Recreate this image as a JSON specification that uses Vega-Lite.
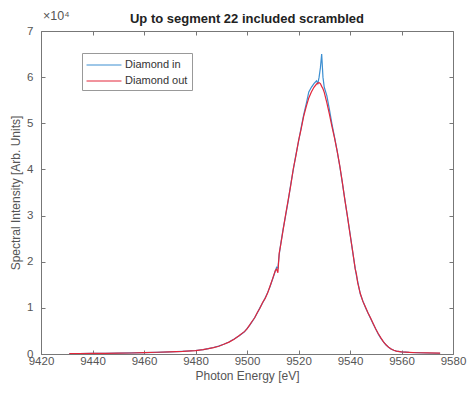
{
  "$schema": "https://vega.github.io/schema/vega-lite/v6.json",
  "width": 412,
  "height": 323,
  "autosize": {"type": "none"},
  "padding": {"left": 41, "top": 31, "right": 15, "bottom": 41},
  "background": "white",
  "title": {"text": "Up to segment 22 included scrambled", "fontSize": 13, "fontWeight": "bold", "font": "Liberation Sans", "color": "#222", "offset": -16, "anchor": "middle"},
  "config": {
    "view": {"stroke": null},
    "font": "Liberation Sans",
    "axis": {"domainColor": "#777", "tickColor": "#777", "labelColor": "#555", "titleColor": "#555", "labelFontSize": 11.5, "titleFontSize": 12, "titleFontWeight": "normal", "tickSize": -4, "grid": false, "labelPadding": 5, "labelFlush": false}
  },
  "layer": [
    {
      "data": {"values": [
        {"e": 9431, "Diamond in": 90, "Diamond out": 100},
        {"e": 9435, "Diamond in": 110, "Diamond out": 105},
        {"e": 9440, "Diamond in": 120, "Diamond out": 125},
        {"e": 9445, "Diamond in": 140, "Diamond out": 150},
        {"e": 9450, "Diamond in": 180, "Diamond out": 175},
        {"e": 9455, "Diamond in": 230, "Diamond out": 220},
        {"e": 9460, "Diamond in": 290, "Diamond out": 300},
        {"e": 9465, "Diamond in": 370, "Diamond out": 380},
        {"e": 9470, "Diamond in": 460, "Diamond out": 450},
        {"e": 9475, "Diamond in": 580, "Diamond out": 560},
        {"e": 9480, "Diamond in": 760, "Diamond out": 750},
        {"e": 9483, "Diamond in": 950, "Diamond out": 960},
        {"e": 9485, "Diamond in": 1150, "Diamond out": 1150},
        {"e": 9487, "Diamond in": 1400, "Diamond out": 1380},
        {"e": 9489, "Diamond in": 1700, "Diamond out": 1680},
        {"e": 9491, "Diamond in": 2100, "Diamond out": 2120},
        {"e": 9493, "Diamond in": 2600, "Diamond out": 2580},
        {"e": 9495, "Diamond in": 3250, "Diamond out": 3200},
        {"e": 9497, "Diamond in": 3950, "Diamond out": 4000},
        {"e": 9499, "Diamond in": 4800, "Diamond out": 4850},
        {"e": 9500, "Diamond in": 5500, "Diamond out": 5450},
        {"e": 9501, "Diamond in": 6200, "Diamond out": 6250},
        {"e": 9502, "Diamond in": 7000, "Diamond out": 7100},
        {"e": 9503, "Diamond in": 7900, "Diamond out": 7850},
        {"e": 9504, "Diamond in": 8900, "Diamond out": 9000},
        {"e": 9505, "Diamond in": 10000, "Diamond out": 9900},
        {"e": 9506, "Diamond in": 11000, "Diamond out": 11100},
        {"e": 9507, "Diamond in": 12100, "Diamond out": 12000},
        {"e": 9508, "Diamond in": 13300, "Diamond out": 13200},
        {"e": 9509, "Diamond in": 14700, "Diamond out": 14800},
        {"e": 9510, "Diamond in": 16300, "Diamond out": 16400},
        {"e": 9511, "Diamond in": 18000, "Diamond out": 18100},
        {"e": 9511.5, "Diamond in": 18800, "Diamond out": 18400},
        {"e": 9512, "Diamond in": 18600, "Diamond out": 17600},
        {"e": 9512.5, "Diamond in": 21500, "Diamond out": 21800},
        {"e": 9513, "Diamond in": 23500, "Diamond out": 23400},
        {"e": 9514, "Diamond in": 27000, "Diamond out": 26800},
        {"e": 9515, "Diamond in": 30000, "Diamond out": 30200},
        {"e": 9516, "Diamond in": 33200, "Diamond out": 33400},
        {"e": 9517, "Diamond in": 36800, "Diamond out": 36600},
        {"e": 9518, "Diamond in": 40000, "Diamond out": 40200},
        {"e": 9519, "Diamond in": 43200, "Diamond out": 43000},
        {"e": 9520, "Diamond in": 46000, "Diamond out": 46200},
        {"e": 9521, "Diamond in": 49000, "Diamond out": 48700},
        {"e": 9522, "Diamond in": 51800, "Diamond out": 51500},
        {"e": 9523, "Diamond in": 54200, "Diamond out": 53600},
        {"e": 9524, "Diamond in": 56800, "Diamond out": 55500},
        {"e": 9525, "Diamond in": 57800, "Diamond out": 56800},
        {"e": 9526, "Diamond in": 58600, "Diamond out": 57800},
        {"e": 9527, "Diamond in": 59200, "Diamond out": 58500},
        {"e": 9527.5, "Diamond in": 58600, "Diamond out": 58700},
        {"e": 9528, "Diamond in": 60000, "Diamond out": 58800},
        {"e": 9528.5, "Diamond in": 62000, "Diamond out": 58600},
        {"e": 9529, "Diamond in": 65000, "Diamond out": 58000},
        {"e": 9529.5, "Diamond in": 60000, "Diamond out": 57500},
        {"e": 9530, "Diamond in": 57800, "Diamond out": 56700},
        {"e": 9531, "Diamond in": 56000, "Diamond out": 54500},
        {"e": 9532, "Diamond in": 53000, "Diamond out": 52000},
        {"e": 9533, "Diamond in": 49800, "Diamond out": 49300},
        {"e": 9534, "Diamond in": 47000, "Diamond out": 46800},
        {"e": 9535, "Diamond in": 44000, "Diamond out": 44000},
        {"e": 9536, "Diamond in": 40800, "Diamond out": 40900},
        {"e": 9537, "Diamond in": 37200, "Diamond out": 37300},
        {"e": 9538, "Diamond in": 33500, "Diamond out": 33400},
        {"e": 9539, "Diamond in": 29800, "Diamond out": 29900},
        {"e": 9540, "Diamond in": 26200, "Diamond out": 26000},
        {"e": 9541, "Diamond in": 22300, "Diamond out": 22400},
        {"e": 9542, "Diamond in": 18600, "Diamond out": 18500},
        {"e": 9542.5, "Diamond in": 17000, "Diamond out": 17300},
        {"e": 9543, "Diamond in": 15700, "Diamond out": 15400},
        {"e": 9544, "Diamond in": 13000, "Diamond out": 13100},
        {"e": 9545, "Diamond in": 11500, "Diamond out": 11400},
        {"e": 9546, "Diamond in": 10100, "Diamond out": 10200},
        {"e": 9547, "Diamond in": 8900, "Diamond out": 8900},
        {"e": 9548, "Diamond in": 7700, "Diamond out": 7800},
        {"e": 9549, "Diamond in": 6500, "Diamond out": 6600},
        {"e": 9550, "Diamond in": 5400, "Diamond out": 5400},
        {"e": 9551, "Diamond in": 4300, "Diamond out": 4400},
        {"e": 9552, "Diamond in": 3400, "Diamond out": 3500},
        {"e": 9553, "Diamond in": 2600, "Diamond out": 2650},
        {"e": 9554, "Diamond in": 1950, "Diamond out": 2000},
        {"e": 9555, "Diamond in": 1450, "Diamond out": 1450},
        {"e": 9556, "Diamond in": 1050, "Diamond out": 1100},
        {"e": 9557, "Diamond in": 800, "Diamond out": 820},
        {"e": 9558, "Diamond in": 620, "Diamond out": 640},
        {"e": 9560, "Diamond in": 450, "Diamond out": 460},
        {"e": 9563, "Diamond in": 340, "Diamond out": 350},
        {"e": 9566, "Diamond in": 280, "Diamond out": 270},
        {"e": 9570, "Diamond in": 220, "Diamond out": 230},
        {"e": 9575, "Diamond in": 160, "Diamond out": 170}
      ]},
      "transform": [{"fold": ["Diamond in", "Diamond out"], "as": ["series", "value"]}],
      "mark": {"type": "line", "strokeWidth": 1.2, "clip": true},
      "encoding": {
        "x": {"field": "e", "type": "quantitative", "scale": {"domain": [9420, 9580], "nice": false, "zero": false},
              "axis": {"orient": "bottom", "values": [9420, 9440, 9460, 9480, 9500, 9520, 9540, 9560, 9580], "format": "d", "title": "Photon Energy [eV]", "titlePadding": 4}},
        "y": {"field": "value", "type": "quantitative", "scale": {"domain": [0, 70000], "nice": false},
              "axis": {"orient": "left", "values": [0, 10000, 20000, 30000, 40000, 50000, 60000, 70000], "labelExpr": "datum.value / 10000", "labelPadding": 12, "title": "Spectral Intensity [Arb. Units]", "titlePadding": 4}},
        "color": {"field": "series", "type": "nominal",
                  "scale": {"domain": ["Diamond in", "Diamond out"], "range": ["#3d8fd1", "#e3263a"]},
                  "legend": {"title": null, "orient": "none", "legendX": 41, "legendY": 22, "symbolType": "M-2.33,0H2.33", "symbolSize": 225, "symbolStrokeWidth": 1, "symbolOffset": 10, "labelFontSize": 11, "labelColor": "#333", "strokeColor": "#999", "fillColor": "white", "padding": 4, "rowPadding": 3, "labelOffset": 13}}
      }
    },
    {
      "data": {"values": [{"t": "×10⁴"}]},
      "mark": {"type": "text", "align": "left", "baseline": "alphabetic", "dy": -11, "dx": 2, "fontSize": 12.5, "color": "#555"},
      "encoding": {
        "x": {"datum": 9420, "type": "quantitative", "axis": {"orient": "top", "values": [9420, 9440, 9460, 9480, 9500, 9520, 9540, 9560, 9580], "labels": false, "title": null}},
        "y": {"datum": 70000, "type": "quantitative", "axis": {"orient": "right", "values": [0, 10000, 20000, 30000, 40000, 50000, 60000, 70000], "labels": false, "title": null}},
        "text": {"field": "t"}
      }
    }
  ],
  "resolve": {"axis": {"x": "independent", "y": "independent"}}
}
